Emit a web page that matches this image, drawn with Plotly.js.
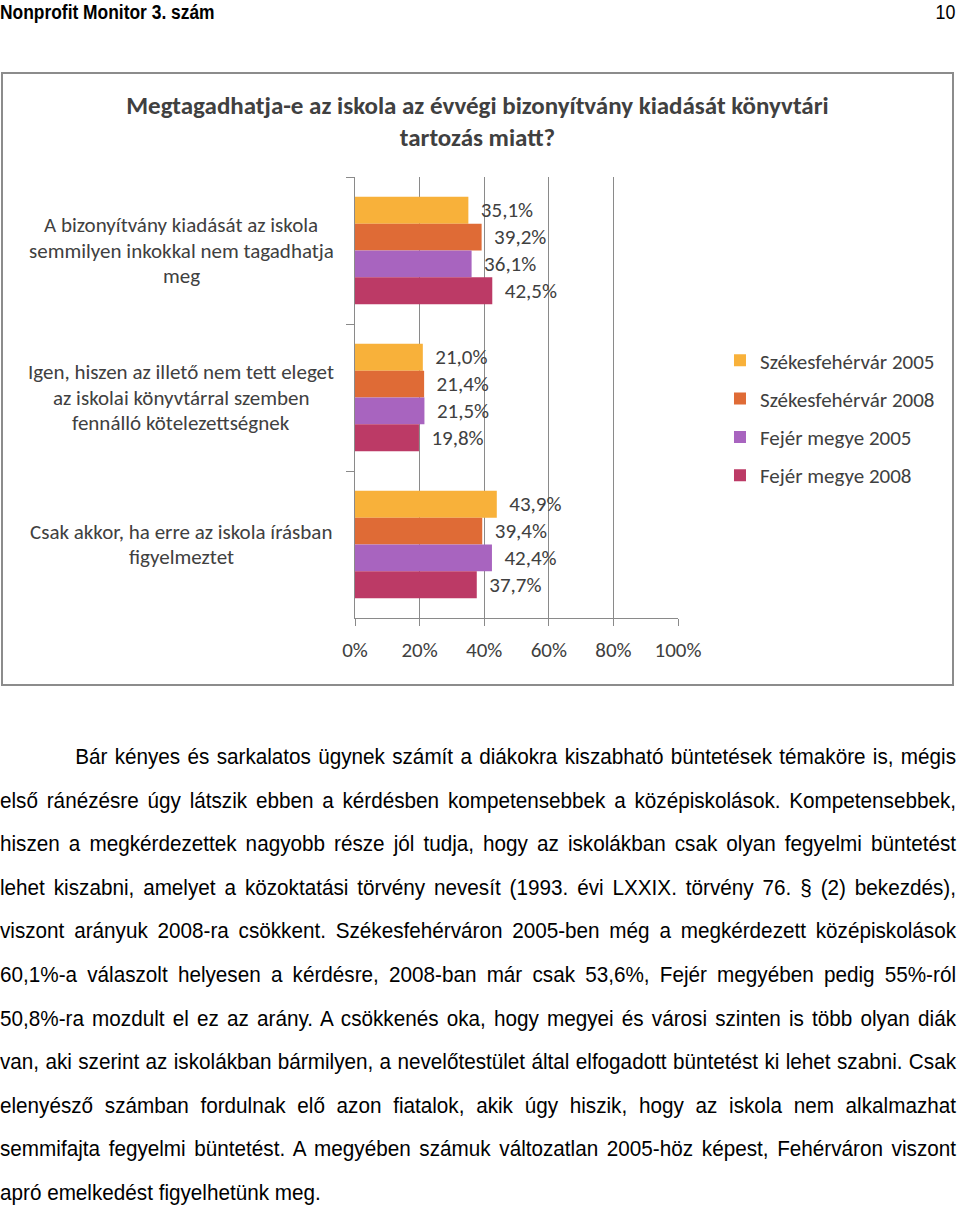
<!DOCTYPE html>
<html>
<head>
<meta charset="utf-8">
<script src="https://cdn.plot.ly/plotly-3.0.1.min.js"></script>
<style>
  html, body { margin:0; padding:0; background:#fff; }
  body { width:960px; height:1207px; position:relative; overflow:hidden; }
  .narrow { font-family: "Liberation Sans", Arial, sans-serif; color:#000; }
  #hdr { position:absolute; left:0; top:-1px; height:26px; font-size:20px; font-weight:bold; line-height:26px; transform:scaleX(0.87); transform-origin:0 0; white-space:nowrap; }
  #pg { position:absolute; right:5px; top:-1px; height:26px; font-size:21px; line-height:26px; transform:scaleX(0.85); transform-origin:100% 0; }
  #box { position:absolute; left:1px; top:72px; width:949px; height:610px; border:2px solid #8c8c8c; }
  #chart { position:absolute; left:0; top:0; width:949px; height:610px; }
  #body { position:absolute; left:0; top:735px; width:1017px; font-size:22px; line-height:43.6px; transform:scaleX(0.94); transform-origin:0 0; }
  #body div { text-align:justify; text-align-last:justify; white-space:nowrap; }
  #body div.last { text-align-last:left; }
</style>
</head>
<body>
<div id="hdr" class="narrow">Nonprofit Monitor 3. szám</div>
<div id="pg" class="narrow">10</div>
<div id="box"><div id="chart"></div></div>
<div id="body" class="narrow"></div>
<script>
// ---- data ----
const chartTitle = "Megtagadhatja-e az iskola az évvégi bizonyítvány kiadását könyvtári<br>tartozás miatt?";
const categories = [
  "A bizonyítvány kiadását az iskola semmilyen inkokkal nem tagadhatja meg",
  "Igen, hiszen az illető nem tett eleget az iskolai könyvtárral szemben fennálló kötelezettségnek",
  "Csak akkor, ha erre az iskola írásban figyelmeztet"
];
const categoryLines = [
  ["A bizonyítvány kiadását az iskola", "semmilyen inkokkal nem tagadhatja", "meg"],
  ["Igen, hiszen az illető nem tett eleget", "az iskolai könyvtárral szemben", "fennálló kötelezettségnek"],
  ["Csak akkor, ha erre az iskola írásban", "figyelmeztet"]
];
const seriesNames = ["Székesfehérvár 2005", "Székesfehérvár 2008", "Fejér megye 2005", "Fejér megye 2008"];
const szfv2005 = [35.1, 21.0, 43.9];
const szfv2008 = [39.2, 21.4, 39.4];
const fejer2005 = [36.1, 21.5, 42.4];
const fejer2008 = [42.5, 19.8, 37.7];
const seriesColors = ["#F8B13A", "#DF6B36", "#A864BF", "#BC3A66"];
const xTicks = [0, 20, 40, 60, 80, 100];
const xTickText = ["0%", "20%", "40%", "60%", "80%", "100%"];

const bodyLines = [
  "Bár kényes és sarkalatos ügynek számít a diákokra kiszabható büntetések témaköre is, mégis",
  "első ránézésre úgy látszik ebben a kérdésben kompetensebbek a középiskolások. Kompetensebbek,",
  "hiszen a megkérdezettek nagyobb része jól tudja, hogy az iskolákban csak olyan fegyelmi büntetést",
  "lehet kiszabni, amelyet a közoktatási törvény nevesít (1993. évi LXXIX. törvény 76. § (2) bekezdés),",
  "viszont arányuk 2008-ra csökkent.  Székesfehérváron 2005-ben még a megkérdezett középiskolások",
  "60,1%-a válaszolt helyesen a kérdésre, 2008-ban már csak 53,6%, Fejér megyében pedig 55%-ról",
  "50,8%-ra mozdult el ez az arány. A csökkenés oka, hogy megyei és városi szinten is több olyan diák",
  "van, aki szerint az iskolákban bármilyen, a nevelőtestület által elfogadott büntetést ki lehet szabni. Csak",
  "elenyésző számban fordulnak elő azon fiatalok, akik úgy hiszik, hogy az iskola nem alkalmazhat",
  "semmifajta fegyelmi büntetést. A megyében számuk változatlan 2005-höz képest, Fehérváron viszont",
  "apró emelkedést figyelhetünk meg."
];

// ---- body text ----
const bodyEl = document.getElementById('body');
bodyLines.forEach((t, i) => {
  const d = document.createElement('div');
  d.textContent = t;
  if (i === 0) d.style.paddingLeft = '80px';
  if (i === bodyLines.length - 1) d.className = 'last';
  bodyEl.appendChild(d);
});

// ---- chart ----
const FONT = "Carlito, Lato, 'Open Sans', sans-serif";
const TXT = "#404040";
const series = [szfv2005, szfv2008, fejer2005, fejer2008];
const traces = series.map((vals, k) => ({
  type: 'bar',
  orientation: 'h',
  name: seriesNames[k],
  legendgroup: 'g' + k,
  x: vals,
  y: categories,
  marker: { color: seriesColors[k] },
  texttemplate: '\u00a0\u00a0%{x:.1f}%',
  textposition: 'outside',
  cliponaxis: false,
  textfont: { family: FONT, size: 21, color: TXT },
  hoverinfo: 'skip'
}));

const annotations = [];
categoryLines.forEach((lines, i) => {
  const n = lines.length;
  lines.forEach((ln, j) => {
    annotations.push({
      xref: 'paper', yref: 'y',
      x: -0.5385, y: categories[i],
      yshift: -(j - (n - 1) / 2) * 25.7,
      text: ln, showarrow: false,
      xanchor: 'center', yanchor: 'middle', align: 'center',
      font: { family: FONT, size: 21, color: TXT }
    });
  });
});

const layout = {
  width: 949, height: 610,
  margin: { l: 352, r: 272, t: 103, b: 66 },
  paper_bgcolor: '#fff', plot_bgcolor: '#fff',
  separators: ', ',
  title: {
    text: chartTitle,
    font: { family: FONT, size: 25, color: TXT, weight: 'bold' },
    x: 0.5, xanchor: 'center', xref: 'container',
    y: 0.935, yanchor: 'top', yref: 'container'
  },
  barmode: 'group',
  bargap: 0.27,
  bargroupgap: 0,
  showlegend: true,
  legend: {
    x: 1.13, xanchor: 'left', xref: 'paper',
    y: 0.63, yanchor: 'top', yref: 'paper',
    traceorder: 'grouped',
    tracegroupgap: 8,
    font: { family: FONT, size: 21, color: TXT },
    bgcolor: 'rgba(0,0,0,0)'
  },
  xaxis: {
    range: [0, 100],
    tickmode: 'array',
    tickvals: xTicks,
    ticktext: xTickText,
    showgrid: true, gridcolor: '#8a8a8a', gridwidth: 1,
    showline: true, linecolor: '#8a8a8a', linewidth: 1,
    ticks: 'outside', ticklen: 7, tickcolor: '#8a8a8a',
    ticklabelstandoff: 6,
    tickfont: { family: FONT, size: 21, color: TXT },
    zeroline: false, fixedrange: true
  },
  yaxis: {
    type: 'category',
    categoryorder: 'array', categoryarray: categories,
    autorange: 'reversed',
    showticklabels: false,
    showgrid: false,
    showline: true, linecolor: '#8a8a8a', linewidth: 1,
    ticks: 'outside', tickson: 'boundaries', ticklen: 8, tickcolor: '#8a8a8a',
    zeroline: false, fixedrange: true
  },
  annotations: annotations
};

Plotly.newPlot('chart', traces, layout, { staticPlot: true, displayModeBar: false });
</script>
</body>
</html>
